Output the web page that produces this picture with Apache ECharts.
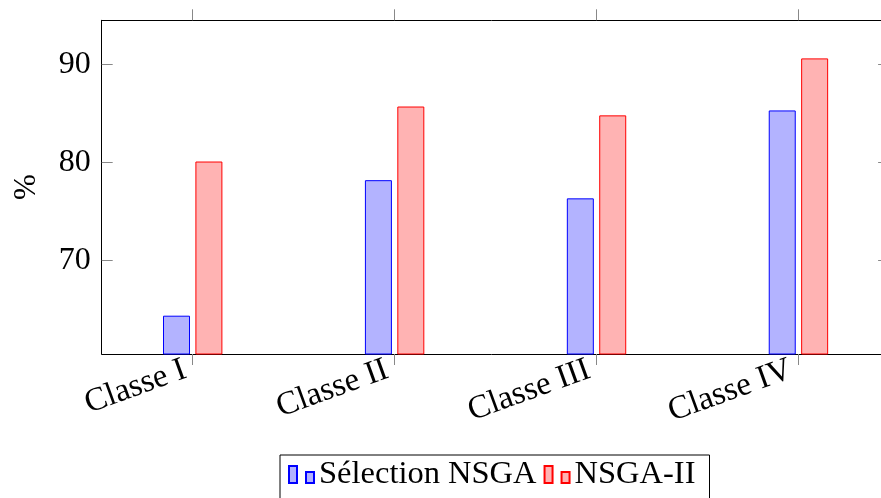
<!DOCTYPE html>
<html>
<head>
<meta charset="utf-8">
<script src="https://cdn.jsdelivr.net/npm/echarts@6/dist/echarts.min.js"></script>
<style>
html,body{margin:0;padding:0;background:#fff;}
#chart{width:881px;height:498px;}
</style>
</head>
<body>
<div id="chart"></div>
<script>
const categories = ['Classe I', 'Classe II', 'Classe III', 'Classe IV'];
const selectionNSGA = [64.4, 78.2, 76.35, 85.3];
const nsga2 = [80.1, 85.7, 84.8, 90.6];
const yTicks = [70, 80, 90];
const seriesNames = ['Sélection NSGA', 'NSGA-II'];

const positions = categories.map((c, i) => i);
const FONT = 'Liberation Serif';

const chart = echarts.init(document.getElementById('chart'), null, {renderer: 'canvas'});
const xCommon = {
  type: 'value',
  min: -0.4507,
  max: 3.449,
  splitLine: {show: false},
  axisLine: {show: true, onZero: false, lineStyle: {color: '#000', width: 1}},
  axisTick: {show: true, inside: false, length: 11, customValues: positions, lineStyle: {color: '#888', width: 1}}
};
const yCommon = {
  type: 'value',
  min: 60.5,
  max: 94.48,
  splitLine: {show: false},
  axisLine: {show: true, onZero: false, lineStyle: {color: '#000', width: 1}},
  axisTick: {show: true, inside: true, length: 11, customValues: yTicks, lineStyle: {color: '#888', width: 1}}
};

chart.setOption({
  animation: false,
  grid: {left: 101.7, top: 20.3, right: -8.1, bottom: 144, containLabel: false, outerBoundsMode: 'none'},
  legend: {
    left: 280, top: 455,
    orient: 'horizontal',
    padding: [3, 14, 12, 8],
    borderColor: '#000', borderWidth: 1,
    itemWidth: 25, itemHeight: 17, itemGap: 7,
    icon: 'path://M0,0H8V17H0Z M17,6H25V17H17Z',
    textStyle: {fontFamily: FONT, fontSize: 32.5, color: '#000'},
    data: seriesNames
  },
  xAxis: [
    Object.assign({}, xCommon, {
      position: 'bottom',
      axisLabel: {
        show: true, customValues: positions, rotate: 20, margin: 12,
        padding: [0, 8, 0, 0],
        fontFamily: FONT, fontSize: 33, color: '#000',
        formatter: v => categories[Math.round(v)]
      }
    }),
    Object.assign({}, xCommon, {position: 'top', axisLabel: {show: false}})
  ],
  yAxis: [
    Object.assign({}, yCommon, {
      position: 'left',
      name: '%', nameLocation: 'middle', nameGap: 59, nameRotate: 90,
      nameTextStyle: {fontFamily: FONT, fontSize: 31, color: '#000'},
      axisLabel: {show: true, customValues: yTicks, margin: 11, fontFamily: FONT, fontSize: 32, color: '#000'}
    }),
    Object.assign({}, yCommon, {position: 'right', axisLabel: {show: false}})
  ],
  series: [
    {
      name: seriesNames[0], type: 'bar', xAxisIndex: 0, yAxisIndex: 0,
      barWidth: 27, barGap: '20%',
      itemStyle: {color: '#b3b3ff', borderColor: '#0000ff', borderWidth: 1},
      data: positions.map((x, i) => [x, selectionNSGA[i]])
    },
    {
      name: seriesNames[1], type: 'bar', xAxisIndex: 0, yAxisIndex: 0,
      barWidth: 27, barGap: '20%',
      itemStyle: {color: '#ffb3b3', borderColor: '#ff0000', borderWidth: 1},
      data: positions.map((x, i) => [x, nsga2[i]])
    }
  ]
});
</script>
</body>
</html>
